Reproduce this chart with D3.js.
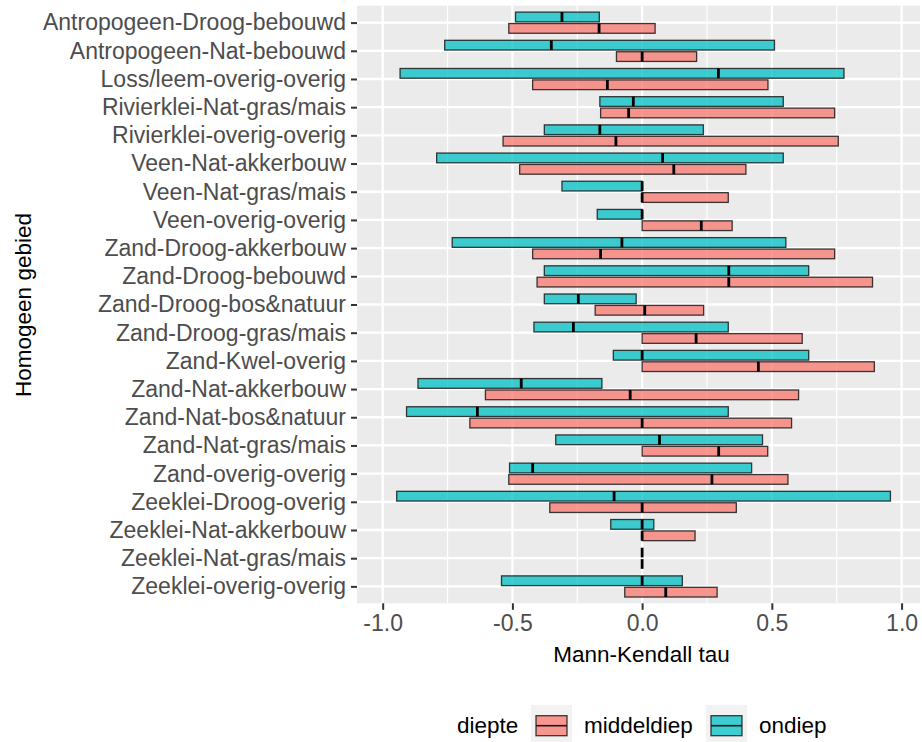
<!DOCTYPE html>
<html>
<head>
<meta charset="utf-8">
<script src="https://cdn.jsdelivr.net/npm/d3@7"></script>
<style>
  html, body { margin: 0; padding: 0; background: #ffffff; }
  svg { display: block; font-family: "Liberation Sans", Arial, Helvetica, sans-serif; }
</style>
</head>
<body>
<svg id="chart" width="922" height="742"></svg>
<script>
// Homogeneous areas (top to bottom)
const categories = [
  "Antropogeen-Droog-bebouwd", "Antropogeen-Nat-bebouwd", "Loss/leem-overig-overig",
  "Rivierklei-Nat-gras/mais", "Rivierklei-overig-overig", "Veen-Nat-akkerbouw",
  "Veen-Nat-gras/mais", "Veen-overig-overig", "Zand-Droog-akkerbouw",
  "Zand-Droog-bebouwd", "Zand-Droog-bos&natuur", "Zand-Droog-gras/mais",
  "Zand-Kwel-overig", "Zand-Nat-akkerbouw", "Zand-Nat-bos&natuur",
  "Zand-Nat-gras/mais", "Zand-overig-overig", "Zeeklei-Droog-overig",
  "Zeeklei-Nat-akkerbouw", "Zeeklei-Nat-gras/mais", "Zeeklei-overig-overig"
];

// Mann-Kendall tau per depth: minimum, median, maximum
const ondiepMin = [-0.488, -0.761, -0.933, -0.163, -0.377, -0.792, -0.309, -0.173, -0.732, -0.377, -0.377,
                   -0.417, -0.111, -0.864, -0.908, -0.333, -0.511, -0.946, -0.121, 0, -0.542];
const ondiepMed = [-0.309, -0.350, 0.294, -0.034, -0.163, 0.079, 0, 0, -0.078, 0.334, -0.246,
                   -0.265, 0, -0.466, -0.635, 0.067, -0.422, -0.108, 0, 0, 0];
const ondiepMax = [-0.165, 0.510, 0.778, 0.544, 0.236, 0.544, 0, 0, 0.554, 0.642, -0.023,
                   0.332, 0.642, -0.155, 0.332, 0.464, 0.422, 0.957, 0.045, 0, 0.155];

const middelMin = [-0.514, -0.099, -0.422, -0.160, -0.536, -0.472, 0, 0, -0.422, -0.405, -0.181,
                   0, 0, -0.604, -0.664, 0, -0.514, -0.356, 0, 0, -0.067];
const middelMed = [-0.166, 0, -0.134, -0.052, -0.101, 0.122, 0, 0.228, -0.160, 0.334, 0.010,
                   0.208, 0.448, -0.046, 0, 0.295, 0.269, 0, 0, 0, 0.091];
const middelMax = [0.050, 0.210, 0.485, 0.742, 0.756, 0.400, 0.332, 0.347, 0.742, 0.888, 0.237,
                   0.617, 0.895, 0.603, 0.576, 0.484, 0.562, 0.363, 0.204, 0, 0.289];

const xTicks = [-1.0, -0.5, 0.0, 0.5, 1.0];
const xMinorTicks = [-0.75, -0.25, 0.25, 0.75];
const depthLabels = ["middeldiep", "ondiep"];
const depthColors = { middeldiep: "#F8766D", ondiep: "#00BFC4" };

// Long-format rows built from the arrays above
const rows = [];
categories.forEach((c, i) => {
  rows.push({ cat: c, depth: "ondiep", min: ondiepMin[i], med: ondiepMed[i], max: ondiepMax[i] });
  rows.push({ cat: c, depth: "middeldiep", min: middelMin[i], med: middelMed[i], max: middelMax[i] });
});

const svg = d3.select("#chart");
const panel = { left: 357, right: 920, top: 5.7, bottom: 603.3 };

const x = d3.scaleLinear().domain([-1.099, 1.071]).range([panel.left, panel.right]);
const y = d3.scalePoint().domain(categories).range([panel.top, panel.bottom]).padding(0.6);
const step = y.step();
const barH = step * 0.345;
const offset = { ondiep: -step * 0.2, middeldiep: step * 0.205 };

// Panel background and grid
svg.append("rect")
  .attr("x", panel.left).attr("y", panel.top)
  .attr("width", panel.right - panel.left).attr("height", panel.bottom - panel.top)
  .attr("fill", "#EBEBEB");

svg.append("g").selectAll("line").data(xMinorTicks).join("line")
  .attr("x1", d => x(d)).attr("x2", d => x(d))
  .attr("y1", panel.top).attr("y2", panel.bottom)
  .attr("stroke", "#ffffff").attr("stroke-width", 1.2);

svg.append("g").selectAll("line").data(xTicks).join("line")
  .attr("x1", d => x(d)).attr("x2", d => x(d))
  .attr("y1", panel.top).attr("y2", panel.bottom)
  .attr("stroke", "#ffffff").attr("stroke-width", 2.3);

svg.append("g").selectAll("line").data(categories).join("line")
  .attr("x1", panel.left).attr("x2", panel.right)
  .attr("y1", d => y(d)).attr("y2", d => y(d))
  .attr("stroke", "#ffffff").attr("stroke-width", 2.3);

// Crossbars
const bars = svg.append("g").selectAll("g").data(rows).join("g");

bars.append("rect")
  .attr("x", d => x(d.min))
  .attr("width", d => x(d.max) - x(d.min))
  .attr("y", d => y(d.cat) + offset[d.depth] - barH / 2)
  .attr("height", barH)
  .attr("fill", d => depthColors[d.depth])
  .attr("fill-opacity", 0.75)
  .attr("stroke", "#1a1a1a")
  .attr("stroke-opacity", 0.85)
  .attr("stroke-width", 1.3);

bars.append("line")
  .attr("x1", d => x(d.med)).attr("x2", d => x(d.med))
  .attr("y1", d => y(d.cat) + offset[d.depth] - barH / 2)
  .attr("y2", d => y(d.cat) + offset[d.depth] + barH / 2)
  .attr("stroke", "#000000")
  .attr("stroke-width", 2.8);

// X axis
const xAxis = svg.append("g")
  .attr("transform", `translate(0,${panel.bottom})`)
  .call(d3.axisBottom(x).tickValues(xTicks).tickFormat(d3.format(".1f")).tickSizeInner(6.5).tickSizeOuter(0).tickPadding(5));
xAxis.select(".domain").remove();
xAxis.selectAll(".tick line").attr("stroke", "#333333").attr("stroke-width", 2);
xAxis.selectAll(".tick text")
  .attr("fill", "#4D4D4D").attr("font-size", "23px")
  .attr("font-family", "Liberation Sans, Arial, sans-serif")
  .text(d => d3.format(".1f")(d).replace("−", "-"));

// Y axis
const yAxis = svg.append("g")
  .attr("transform", `translate(${panel.left},0)`)
  .call(d3.axisLeft(y).tickSizeInner(6).tickSizeOuter(0).tickPadding(5));
yAxis.select(".domain").remove();
yAxis.selectAll(".tick line").attr("stroke", "#333333").attr("stroke-width", 2);
yAxis.selectAll(".tick text")
  .attr("fill", "#4D4D4D").attr("font-size", "23px")
  .attr("font-family", "Liberation Sans, Arial, sans-serif");

// Axis titles
svg.append("text")
  .attr("x", (panel.left + panel.right) / 2 + 3).attr("y", 662)
  .attr("text-anchor", "middle").attr("font-size", "22.5px").attr("fill", "#000000")
  .text("Mann-Kendall tau");

svg.append("text")
  .attr("transform", "translate(30.5,305) rotate(-90)")
  .attr("text-anchor", "middle").attr("font-size", "22.5px").attr("fill", "#000000")
  .text("Homogeen gebied");

// Legend
const legend = svg.append("g");
legend.append("text")
  .attr("x", 457).attr("y", 733)
  .attr("font-size", "22.5px").attr("fill", "#000000")
  .text("diepte");

const keyX = { middeldiep: 531, ondiep: 706 };
depthLabels.forEach(lab => {
  const kx = keyX[lab];
  legend.append("rect")
    .attr("x", kx).attr("y", 705).attr("width", 41).attr("height", 41)
    .attr("fill", "#F2F2F2");
  legend.append("rect")
    .attr("x", kx + 5).attr("y", 715.7).attr("width", 31).attr("height", 20)
    .attr("fill", depthColors[lab]).attr("fill-opacity", 0.75)
    .attr("stroke", "#1a1a1a").attr("stroke-opacity", 0.85).attr("stroke-width", 1.3);
  legend.append("line")
    .attr("x1", kx + 5).attr("x2", kx + 36)
    .attr("y1", 725.7).attr("y2", 725.7)
    .attr("stroke", "#1a1a1a").attr("stroke-width", 1.6);
  legend.append("text")
    .attr("x", kx + 53).attr("y", 733)
    .attr("font-size", "22.5px").attr("fill", "#000000")
    .text(lab);
});
</script>
</body>
</html>
